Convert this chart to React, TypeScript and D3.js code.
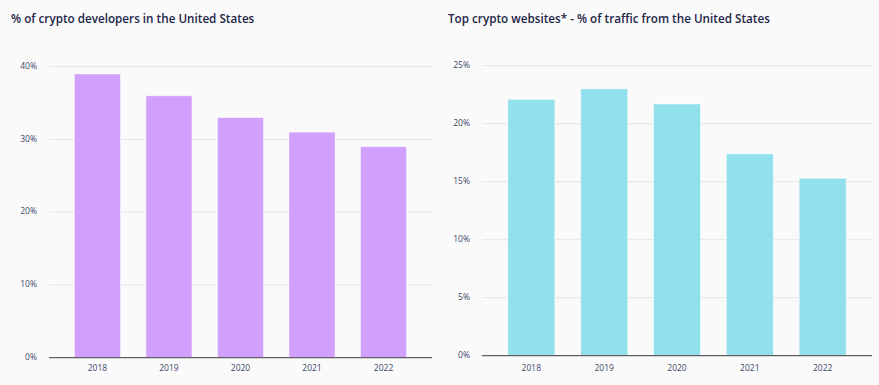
import * as d3 from "d3";

const years = ["2018", "2019", "2020", "2021", "2022"];
const devShare = [39, 36, 33, 31, 29];
const trafficShare = [22.1, 23.0, 21.7, 17.4, 15.3];
const devTicks = [0, 10, 20, 30, 40];
const trafficTicks = [0, 5, 10, 15, 20, 25];

interface PanelProps {
  title: string;
  values: number[];
  ticks: number[];
  max: number;
  color: string;
  titleX: number;
  left: number;
  right: number;
  top: number;
  bottom: number;
}

const Panel = ({title, values, ticks, max, color, titleX, left, right, top, bottom}: PanelProps) => {
  const x = d3.scaleBand<string>().domain(years).range([left, right]).padding(0.355);
  const y = d3.scaleLinear().domain([0, max]).range([bottom, top]);

  return (
    <g>
      <text
        x={titleX}
        y={22.5}
        fontFamily="'Open Sans', sans-serif"
        fontSize={11.7}
        fontWeight={600}
        fill="#1d2548"
      >
        {title}
      </text>
      {ticks.map((t) => (
        <g key={t}>
          {t > 0 && (
            <line x1={left} x2={right} y1={y(t)} y2={y(t)} stroke="#e6e6e6" strokeWidth={1} />
          )}
          <text
            x={left - 12}
            y={y(t)}
            textAnchor="end"
            dominantBaseline="middle"
            fontFamily="'Open Sans', sans-serif"
            fontSize={8.5}
            fill="#3c4766"
          >
            {t}%
          </text>
        </g>
      ))}
      {values.map((v, i) => (
        <rect
          key={years[i]}
          x={x(years[i])}
          y={y(v)}
          width={x.bandwidth()}
          height={y(0) - y(v)}
          fill={color}
          stroke="#ffffff"
          strokeOpacity={0.6}
          strokeWidth={0.8}
        />
      ))}
      <line x1={left} x2={right} y1={y(0)} y2={y(0)} stroke="#5f5f5f" strokeWidth={1.2} />
      {years.map((yr) => (
        <text
          key={yr}
          x={(x(yr) ?? 0) + x.bandwidth() / 2}
          y={371}
          textAnchor="middle"
          fontFamily="'Open Sans', sans-serif"
          fontSize={8.5}
          fill="#3c4766"
        >
          {yr}
        </text>
      ))}
    </g>
  );
};

export default function App() {
  return (
    <div style={{position: "absolute", left: 0, top: 0}}>
      <svg width={879} height={385} style={{display: "block", background: "#fafafa"}}>
        <Panel
          title="% of crypto developers in the United States"
          values={devShare}
          ticks={devTicks}
          max={40}
          color="#d1a0fd"
          titleX={11}
          left={49}
          right={432}
          top={66.7}
          bottom={357.6}
        />
        <Panel
          title="Top crypto websites* - % of traffic from the United States"
          values={trafficShare}
          ticks={trafficTicks}
          max={25}
          color="#92e0eb"
          titleX={448}
          left={482}
          right={872}
          top={65.7}
          bottom={355.7}
        />
      </svg>
    </div>
  );
}
